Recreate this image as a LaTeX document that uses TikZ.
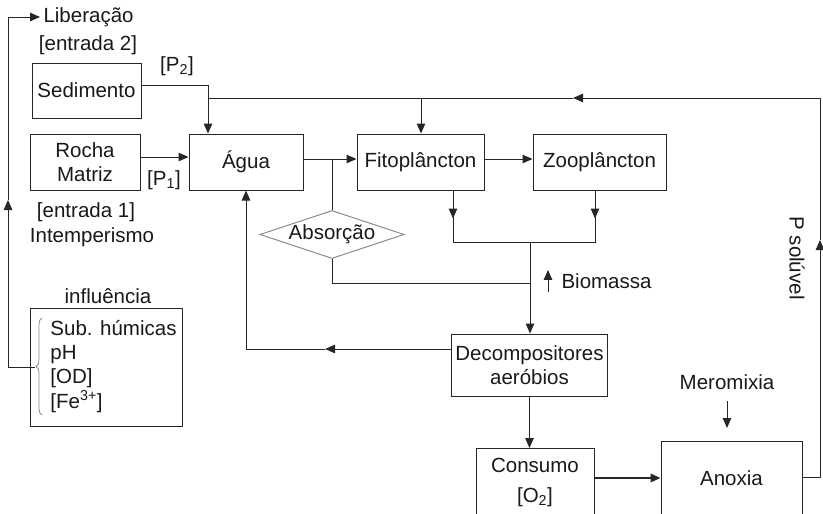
\documentclass[tikz,border=0pt]{standalone}
\usepackage{fontspec}
\setmainfont{Liberation Sans}
\usetikzlibrary{arrows.meta,shapes.geometric,decorations.pathreplacing}
\tikzset{>/.tip={Triangle[length=10pt,width=8.5pt]},
  caixa/.style={draw=black!85, line width=1pt, inner sep=4pt},
  fluxo/.style={draw=black!85, line width=1pt},
  losango/.style={diamond, draw=black!45, line width=1pt, aspect=3, inner sep=0pt},
  chave/.style={draw=black!45, line width=0.8pt, decorate, decoration={brace, amplitude=6pt}}}

\begin{document}
\begin{tikzpicture}[x=1pt, y=-1pt, font=\fontsize{20.5}{24}\selectfont, text=black!90]
\useasboundingbox (0,0) rectangle (823,514);
% caixas
\node[caixa, minimum width=109, minimum height=55] (sed) at (86.5,90.5) {Sedimento};
\node[caixa, minimum width=110, minimum height=56, align=center] (rocha) at (85,162) {Rocha\\Matriz};
\node[caixa, minimum width=114, minimum height=56] (agua) at (246,162) {Água};
\node[caixa, minimum width=127, minimum height=56] (fito) at (420.5,162) {Fitoplâncton};
\node[caixa, minimum width=133, minimum height=56] (zoo) at (599.5,162) {Zooplâncton};
\node[losango, minimum width=143, minimum height=47] (abs) at (332,234.5) {Absorção};
\node[caixa, minimum width=155, minimum height=62, align=center] (dec) at (529.5,365) {Decompositores\\aeróbios};
\node[caixa, anchor=north, minimum width=118, text height=50pt, text depth=20pt, align=center] (cons) at (535,448) {Consumo\\[6pt][O\textsubscript{2}]};
\node[caixa, anchor=north, minimum width=141, text height=40pt, text depth=40pt] (anox) at (731.5,441) {Anoxia};
\node[caixa, minimum width=152, minimum height=118, inner xsep=0pt] (infl) at (106,367)
  {\begin{tabular}{@{\hspace{15pt}}l@{}}Sub. húmicas\\pH\\{}[OD]\\{}[Fe\textsuperscript{3+}]\end{tabular}};

% rotulos
\node[anchor=west] (lib) at (40,17) {Liberação};
\node (ent2) at (88,45) {[entrada 2]};
\node (p2) at (177,66) {[P\textsubscript{2}]};
\node (p1) at (164,180) {[P\textsubscript{1}]};
\node (ent1) at (86,212) {[entrada 1]};
\node (intemp) at (92,237) {Intemperismo};
\node (rinfl) at (108,296) {influência};
\node[anchor=west] (bio) at (558,281) {Biomassa};
\node (mero) at (727,382) {Meromixia};
\node[rotate=-90] (psol) at (797,258) {P solúvel};

\coordinate (brtip) at (35,367);
\coordinate (lft) at (8,200);
\coordinate (j1) at (208,98);
\coordinate (j2) at (421,98);
\coordinate (tm) at (573,98);
\coordinate (rt) at (820,98);
\coordinate (ps) at (820,240);
\coordinate (ab) at (332,159);
\coordinate (f1) at (453,242);
\coordinate (z1) at (595,242);
\coordinate (bm) at (530,283);
\coordinate (dl) at (325,349);
\coordinate (mt) at (727,428);

\draw[chave] (42,415) -- (42,318);
\draw[fluxo,->] (brtip) -| (lft);
\draw[fluxo,->] (lft) |- (lib.west);
\draw[fluxo] ([yshift=5]sed.east) -| (j1);
\draw[fluxo,->] (j1) -- (j1 |- agua.north);
\draw[fluxo,->] ([yshift=5]rocha.east) -- ([yshift=5]agua.west);
\draw[fluxo,->] ([yshift=3]agua.east) -- ([yshift=3]fito.west);
\draw[fluxo,->] ([yshift=3]fito.east) -- ([yshift=3]zoo.west);
\draw[fluxo,->] (anox.east |- 0,477) -| (ps);
\draw[fluxo,->] (ps) -- (rt) -- (tm);
\draw[fluxo] (tm) -- (j1);
\draw[fluxo,->] (j2) -- (j2 |- fito.north);
\draw[fluxo] (ab) -- (abs.north);
\draw[fluxo] (abs.south) |- (bm);
\draw[fluxo,->] (f1 |- fito.south) -- ++(0,28);
\draw[fluxo] (f1 |- fito.south) -- (f1) -- (z1) -- (z1 |- zoo.south);
\draw[fluxo,->] (z1 |- zoo.south) -- ++(0,28);
\draw[fluxo,->] (bm |- f1) -- (bm |- dec.north);
\draw[fluxo,->] ([xshift=-10]bio.south west) -- ([xshift=-10]bio.north west);
\draw[fluxo,->] ([yshift=16]dec.west) -- (dl);
\draw[fluxo,->] (dl) -| (agua.south);
\draw[fluxo,->] (dec.south) -- (dec.south |- cons.north);
\draw[fluxo,->,line width=1.8pt] (cons.east |- 0,478) -- (anox.west |- 0,478);
\draw[fluxo,->] ([yshift=-8]mero.south) -- (mt);
\end{tikzpicture}
\end{document}
